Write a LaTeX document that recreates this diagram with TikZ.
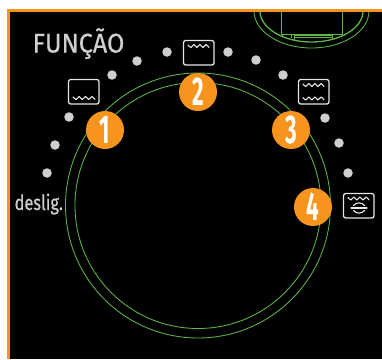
\documentclass[tikz,border=0pt]{standalone}
\usepackage{fontspec}
\setmainfont{Fira Sans}
\newfontfamily\labelfont[FakeBold=0.5]{Fira Sans}
\definecolor{frameorange}{HTML}{F7941E}
\definecolor{ringgreen}{HTML}{5DB646}
\definecolor{dotgray}{HTML}{CFCFCF}
\newcommand{\wavy}[3]{% x, y, width
  \draw[iconline] plot[smooth,tension=0.5] coordinates {(#1,#2) ({#1+#3*.14},{#2+2.5}) ({#1+#3*.28},{#2-.5}) ({#1+#3*.42},{#2+2.5}) ({#1+#3*.57},{#2-.5}) ({#1+#3*.71},{#2+2.5}) ({#1+#3*.86},{#2-.5}) ({#1+#3},{#2+2.5})};}
\begin{document}
\begin{tikzpicture}[x=1pt,y=-1pt,
  ring/.style={draw=ringgreen,line width=0.85pt},
  iconline/.style={draw=white!92!black,line width=1.1pt,line cap=round,line join=round},
  iconbox/.style={draw=white!90!black,line width=1.3pt,rounded corners=2.2pt},
  dotmark/.style={circle,fill=dotgray,inner sep=0pt,minimum size=9.5pt},
  digit/.style={text=white,font=\fontsize{40}{40}\selectfont\bfseries,xscale=.56,inner sep=0pt}
  ]
\useasboundingbox (0,0) rectangle (382,359);
\fill[white] (0,0) rectangle (382,359);
\fill[frameorange] (7,9) rectangle (382,359);
\fill[black] (10,11.5) rectangle (382,359);
% top knob
\begin{scope}
\clip (10,11.5) rectangle (382,359);
\draw[ring] (311.5,11) ellipse [x radius=57.5,y radius=37];
\draw[ring,line width=1.3pt] (311.5,11) ellipse [x radius=51.5,y radius=31];
\draw[ring] (281,11) -- (281,34.5) -- (342,34.5) -- (342,11);
\draw[ring] (282,35) -- (282,37) (291,35) -- (291,38) (294,40) -- (294,35) -- (332,35) -- (332,40);
\draw[ring] (294,37) -- (332,37);
\end{scope}
% rings
\draw[ring] (198,205.5) circle [radius=132.5];
\draw[ring] (198,205.5) circle [radius=123];
% labels
\node[text=dotgray,font=\fontsize{27}{27}\labelfont,xscale=.93,inner sep=0pt,anchor=base west] (title) at (32.5,52.5) {FUNÇÃO};
\node[text=dotgray,font=\fontsize{21}{21}\labelfont,xscale=.78,inner sep=0pt,anchor=base west] (off) at (14.5,210) {deslig.};
% dots
\foreach \n/\x/\y in {a/47/173,b/55/145,c/69/117,d/112/75,e/137/61,f/167/52,g/228/52,h/256/60,i/283/75,j/325/118,k/339/143,l/348/173}
  \node[dotmark] (dot\n) at (\x,\y) {};
% icons
\draw[iconbox] (68.5,79.5) rectangle (99,104);
\wavy{73}{97}{22}
\draw[iconbox] (183.5,40.5) rectangle (214,65);
\wavy{188}{45}{21}
\draw[iconbox] (298.5,79.5) rectangle (329,104);
\wavy{303}{84}{21}
\wavy{303}{97.5}{21}
\draw[iconbox] (343.5,193.5) rectangle (374,218);
\wavy{348}{197.5}{21}
\draw[iconline] (351,208) -- (367,208);
\draw[iconline] (353.5,205.5) .. controls (356,202) and (362,202) .. (364.5,205.5);
\draw[iconline] (353.5,210.5) .. controls (356,214) and (362,214) .. (364.5,210.5);
% badges
\foreach \n/\x/\y in {1/105/130,2/198/92,3/291/130,4/313/207}{
  \fill[frameorange] (\x,\y) circle [radius=19];
  \node[digit] (num\n) at (\x,\y) {\n};
}
\end{tikzpicture}
\end{document}
